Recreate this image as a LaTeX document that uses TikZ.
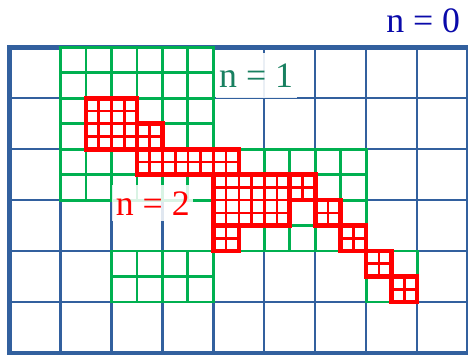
\documentclass[tikz,border=0pt]{standalone}
\usepackage{fontspec}
\setmainfont{Liberation Serif}
\definecolor{gridblue}{RGB}{50,96,158}
\definecolor{lvlgreen}{RGB}{0,176,80}
\definecolor{lvlred}{RGB}{255,0,0}
\definecolor{tealtext}{RGB}{24,128,96}
\definecolor{navytext}{RGB}{10,10,170}
\tikzset{
  coarsegrid/.style={gridblue, line width=1.3pt},
  coarseframe/.style={gridblue, line width=2.6pt},
  midgrid/.style={lvlgreen, line width=1.6pt},
  finegrid/.style={lvlred, line width=1.5pt},
  finebox/.style={lvlred, line width=2.6pt},
  lvllabel/.style={inner sep=2pt, font=\fontsize{20}{23}\selectfont},
}
\def\greenpatches{1/3/4/6, 4/2/7/4, 2/1/4/2, 7/1/8/2}
\def\redpatches{1.5/4/2.5/5, 2.5/4/3/4.5, 2.5/3.5/4.5/4, 4/2.5/5.5/3.5, 4/2/4.5/2.5,
  5.5/3/6/3.5, 6/2.5/6.5/3, 6.5/2/7/2.5, 7/1.5/7.5/2, 7.5/1/8/1.5}
\begin{document}
\begin{tikzpicture}
    \useasboundingbox (-0.19,-0.06) rectangle (9.0,6.93);
    \draw[coarsegrid] (0,0) grid (9,6);
    \draw[coarseframe] (0,0) rectangle (9,6);
    \foreach \xa/\ya/\xb/\yb in \greenpatches {
        \fill[white] (\xa,\ya) rectangle (\xb,\yb);
        \draw[midgrid, step=0.5] (\xa,\ya) grid (\xb,\yb);
        \draw[midgrid] (\xa,\ya) rectangle (\xb,\yb);
    }
    \foreach \xa/\ya/\xb/\yb in \redpatches {
        \fill[white] (\xa,\ya) rectangle (\xb,\yb);
        \draw[finegrid, step=0.25] (\xa,\ya) grid (\xb,\yb);
    }
    \foreach \xa/\ya/\xb/\yb in \redpatches
        \draw[finebox] (\xa,\ya) rectangle (\xb,\yb);
    \node[lvllabel, text=navytext] (nzero) at (8.12,6.52) {n = 0};
    \node[lvllabel, text=tealtext, fill=white, fill opacity=0.9, text opacity=1,
          minimum height=25pt] (none) at (4.84,5.45) {n = 1};
    \node[lvllabel, text=lvlred, fill=white, fill opacity=0.85, text opacity=1,
          minimum height=20pt] (ntwo) at (2.81,2.94) {n = 2};
\end{tikzpicture}
\end{document}
